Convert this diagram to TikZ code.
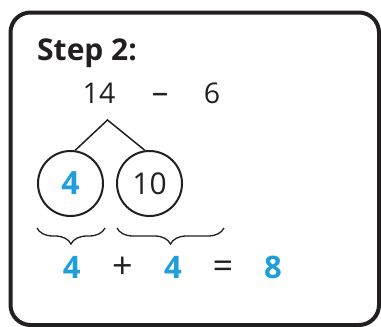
\documentclass[tikz,border=0pt]{standalone}
\usepackage{fontspec}
\setmainfont{Open Sans}
\usetikzlibrary{decorations.pathreplacing}
\definecolor{myblue}{RGB}{30,158,218}
\definecolor{myblack}{RGB}{35,31,32}
\begin{document}
\begin{tikzpicture}[x=1pt,y=-1pt,
  titletext/.style={font=\fontsize{30}{30}\selectfont\bfseries, text=myblack, inner sep=0pt},
  num/.style={font=\fontsize{28.5}{28.5}\selectfont, text=myblack, inner sep=0pt},
  op/.style={font=\fontsize{36}{36}\selectfont, text=myblack, inner sep=0pt},
  bnum/.style={font=\fontsize{31}{31}\selectfont\bfseries, text=myblue, inner sep=0pt},
  circ/.style={circle, draw=myblack, line width=2pt, minimum size=65pt, inner sep=0pt},
  conn/.style={draw=myblack, line width=1.5pt},
  bracestyle/.style={draw=myblack, line width=1.3pt, decorate, decoration={brace, amplitude=16pt}}
]
\useasboundingbox (0,0) rectangle (381,327);
\draw[myblack, line width=4pt, rounded corners=20pt] (10.5,12.5) rectangle (379,325);
\node[titletext, anchor=base west] (title) at (37,60) {Step 2:};
\node[num, anchor=base] (n14) at (99,103) {14};
\node[num, font=\fontsize{33}{33}\selectfont, anchor=base] (minus) at (160,103.5) {–};
\node[num, anchor=base] (n6) at (212,103) {6};
\coordinate (apex) at (107.5,120);
\node[circ, font=\fontsize{32}{32}\selectfont\bfseries, text=myblue] (c1) at (70.5,183.5) {4};
\node[circ, font=\fontsize{30}{30}\selectfont, text=myblack] (c2) at (149.5,183.5) {10};
\draw[conn] (c1.82) -- (apex) -- (c2.98);
\coordinate (b1r) at (105,228);
\coordinate (b1l) at (37,228);
\coordinate (b2r) at (224,228);
\coordinate (b2l) at (117,228);
\draw[bracestyle] (b1r) -- (b1l);
\draw[bracestyle] (b2r) -- (b2l);
\node[bnum, anchor=base] (r1) at (71.7,278) {4};
\node[op, anchor=base] (plus) at (122.5,278) {+};
\node[bnum, anchor=base] (r2) at (173,278) {4};
\node[op, anchor=base] (eq) at (223,278) {=};
\node[bnum, anchor=base] (r3) at (273,278) {8};
\end{tikzpicture}
\end{document}
